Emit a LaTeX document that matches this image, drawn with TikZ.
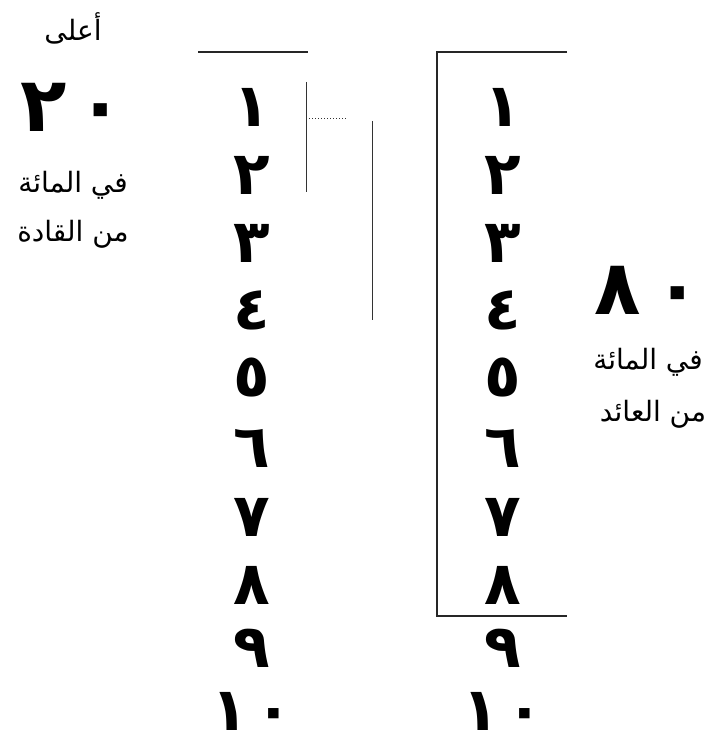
\documentclass[tikz,border=0pt]{standalone}
\usepackage{fontspec}
\TeXXeTstate=1
\newfontfamily\arabicfont[Script=Arabic]{DejaVu Sans}
\begin{document}
\begin{tikzpicture}[x=1pt,y=-1pt,
  rank/.style={font=\arabicfont\bfseries\fontsize{60}{60}\selectfont, inner sep=0pt},
  share/.style={font=\arabicfont\bfseries\fontsize{76}{76}\selectfont, inner sep=0pt},
  caption/.style={font=\arabicfont\fontsize{28}{28}\selectfont, inner sep=0pt},
  rule/.style={draw=black!85, line width=1.3pt},
  thinrule/.style={draw=black!80, line width=1pt}]
\useasboundingbox (0,0) rectangle (709,746);

% left ranking column
\foreach \d/\y [count=\i] in {١/107,٢/175,٣/243,٤/310,٥/378,٦/448,٧/517,٨/585,٩/648,١\kern8pt٠/711}
  \node[rank] (l\i) at (252,\y) {\d};
% right ranking column
\foreach \d/\y [count=\i] in {١/107,٢/175,٣/243,٤/310,٥/378,٦/448,٧/517,٨/585,٩/648,١\kern8pt٠/711}
  \node[rank] (r\i) at (503,\y) {\d};

% left captions
\node[caption] (top) at (73,28) {\beginR أعلى\endR};
\node[share] (twenty) at (72,107) {٢\kern11pt٠};
\node[caption] (lcap1) at (73,185) {\beginR في المائة\endR};
\node[caption] (lcap2) at (73,234) {\beginR من القادة\endR};

% right captions
\node[share] (eighty) at (648,290) {٨\kern14pt٠};
\node[caption] (rcap1) at (648,362) {\beginR في المائة\endR};
\node[caption] (rcap2) at (653,414) {\beginR من العائد\endR};

% rule above the left column
\coordinate (lt1) at (198,52);
\coordinate (lt2) at (308,52);
\draw[rule] (lt1) -- (lt2);

% small bracket beside the top of the left column
\coordinate (b1) at (306,82);
\coordinate (b2) at (306,192);
\coordinate (b3) at (306,119);
\coordinate (b4) at (347,119);
\coordinate (b5) at (372,121);
\coordinate (b6) at (372,320);
\draw[thinrule] (b1) -- (b2);
\draw[thinrule, dotted] (b3) -- (b4);
\draw[thinrule] (b5) -- (b6);

% bracket round the first eight of the right column
\coordinate (rt1) at (567,52);
\coordinate (rt2) at (437,52);
\coordinate (rt3) at (437,616);
\coordinate (rt4) at (567,616);
\draw[rule] (rt1) -- (rt2) -- (rt3) -- (rt4);
\end{tikzpicture}
\end{document}
